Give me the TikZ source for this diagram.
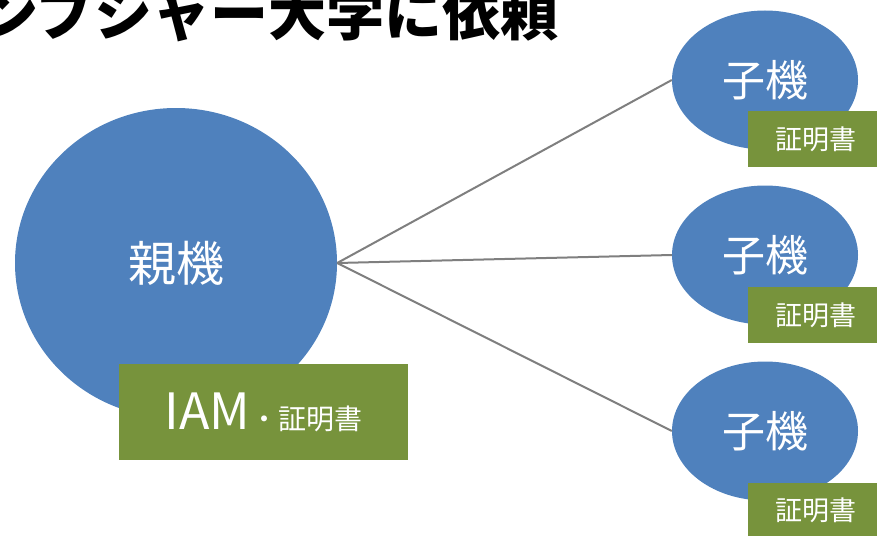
\documentclass[tikz,border=0pt]{standalone}
\usepackage{fontspec}
\usetikzlibrary{shapes.geometric}
\newfontfamily\jpfont{Noto Sans CJK JP}

\definecolor{nodeblue}{HTML}{4F81BD}
\definecolor{certgreen}{HTML}{77933C}
\definecolor{linkgray}{HTML}{7F7F7F}

\begin{document}
\begin{tikzpicture}[x=1pt,y=-1pt,
	device/.style={ellipse, fill=nodeblue, text=white, inner sep=0pt, text depth=.4em},
	cert/.style={rectangle, fill=certgreen, text=white, inner sep=0pt},
	link/.style={draw=linkgray, line width=2pt}]% {{{ parent & children
	\useasboundingbox (0,0) rectangle (877,535);
	\clip (0,0) rectangle (877,535);

	\node[anchor=base west, inner sep=0pt, font=\jpfont\bfseries\fontsize{58}{58}\selectfont] (title) at (-20,36) {ンプシャー大学に依頼};

	\node[device, minimum width=322pt, minimum height=310pt, font=\jpfont\fontsize{48}{48}\selectfont] (parent) at (176,263) {親機};

	\foreach \cy/\by [count=\i] in {80/139, 255/315, 431/510.5} {
		\node[device, minimum width=186pt, minimum height=139pt, font=\jpfont\fontsize{43}{43}\selectfont] (child\i) at (765,\cy) {子機};
		\draw[link] (parent.east) -- (child\i.west);
		\node[cert, minimum width=136pt, minimum height=56pt, font=\jpfont\fontsize{27}{27}\selectfont] (cert\i) at (816,\by) {証明書};
	}

	\node[cert, minimum width=289pt, minimum height=96pt, font=\jpfont] (parentcert) at (263.5,412) {\fontsize{50}{50}\selectfont IAM\fontsize{28}{28}\selectfont ・証明書};
\end{tikzpicture}
\end{document}
